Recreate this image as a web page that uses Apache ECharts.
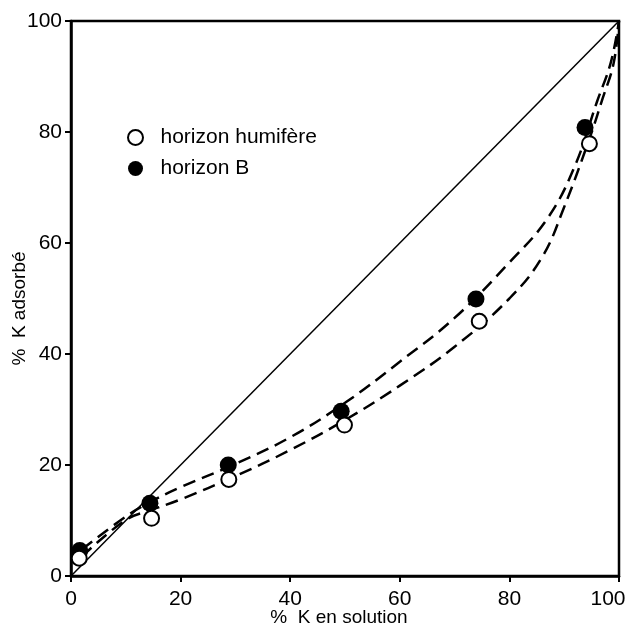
<!DOCTYPE html>
<html><head><meta charset="utf-8">
<script src="https://cdn.jsdelivr.net/npm/echarts@6/dist/echarts.min.js"></script>
<style>html,body{margin:0;padding:0;background:#fff}#c{width:633px;height:637px}</style>
</head><body><div id="c"></div>
<script>
// Measured points
const humifereX = [1.5, 14.7, 28.8, 49.9, 74.5, 94.6];
const humifereY = [3.2, 10.4, 17.4, 27.2, 45.9, 77.9];
const horizonBX = [1.6, 14.4, 28.7, 49.3, 73.9, 93.8];
const horizonBY = [4.6, 13.1, 20.0, 29.7, 49.9, 80.8];
// Hand-drawn dashed curves
const curveHumX = [2, 10, 15, 20, 30, 40, 50, 60, 70, 80, 86, 90, 94.5, 97, 99, 100];
const curveHumY = [3.5, 10.1, 12.0, 13.8, 18.0, 22.7, 28.1, 34.3, 41.3, 50.0, 57.5, 66.5, 78.5, 86.0, 92.3, 100];
const curveBX = [2, 10, 14.4, 20, 30, 40, 50, 60, 70, 80, 87, 92, 96, 98.5, 100];
const curveBY = [4.8, 10.7, 13.3, 16.0, 20.2, 25.0, 31.2, 38.6, 46.5, 56.5, 64.5, 74.0, 85.5, 92.5, 100];
const diagX = [0, 100];
const diagY = [0, 100];
const xTicks = [0, 20, 40, 60, 80, 100];

const zip = (a, b) => a.map((v, i) => [v, b[i]]);
const font = '"Liberation Sans", Arial, sans-serif';
const dash = {color: '#000', width: 2.5, type: [13, 7]};
const chart = echarts.init(document.getElementById('c'));
chart.setOption({
  animation: false,
  backgroundColor: '#fff',
  grid: {left: 71, right: 14, top: 21, bottom: 61, show: true, borderColor: '#000', borderWidth: 2.5,
    containLabel: false, outerBoundsMode: 'none'},
  legend: {
    orient: 'vertical', left: 122, top: 122, itemWidth: 40, itemHeight: 15, itemGap: 10,
    textStyle: {fontSize: 21, color: '#000', fontFamily: font},
    data: [
      {name: 'horizon humifère', icon: 'circle', itemStyle: {color: '#fff', borderColor: '#000', borderWidth: 2, opacity: 1}},
      {name: 'horizon B', icon: 'circle', itemStyle: {color: '#000', opacity: 1}}
    ]
  },
  xAxis: {
    type: 'value', min: 0, max: 100, interval: 20,
    name: '%  K en solution', nameLocation: 'middle', nameGap: 32, nameMoveOverlap: false,
    nameTextStyle: {fontSize: 19, color: '#000', fontFamily: font, padding: [0, 12, 0, 0]},
    axisLine: {lineStyle: {color: '#000', width: 2.5}},
    axisTick: {show: true, length: 6, lineStyle: {color: '#000', width: 2}},
    axisLabel: {fontSize: 21, color: '#000', margin: 13, fontFamily: font,
      formatter: v => !xTicks.includes(v) ? '' : (v === 100 ? '{r|100}' : String(v)),
      rich: {r: {fontSize: 21, color: '#000', fontFamily: font, padding: [0, 22, 0, 0]}}},
    splitLine: {show: false}
  },
  yAxis: {
    type: 'value', min: 0, max: 100, interval: 20,
    name: '%  K adsorbé', nameLocation: 'middle', nameGap: 42, nameRotate: 90, nameMoveOverlap: false,
    nameTextStyle: {fontSize: 19, color: '#000', fontFamily: font, padding: [0, 20, 0, 0]},
    axisLine: {lineStyle: {color: '#000', width: 2.5}},
    axisTick: {show: true, length: 6, lineStyle: {color: '#000', width: 2}},
    axisLabel: {fontSize: 21, color: '#000', margin: 9, fontFamily: font},
    splitLine: {show: false}
  },
  series: [
    {type: 'line', data: zip(diagX, diagY), symbol: 'none', lineStyle: {color: '#000', width: 1.5}, silent: true, z: 1},
    {type: 'line', data: zip(curveHumX, curveHumY), symbol: 'none', smooth: 0.4,
      lineStyle: dash, silent: true, z: 2},
    {type: 'line', data: zip(curveBX, curveBY), symbol: 'none', smooth: 0.4,
      lineStyle: dash, silent: true, z: 2},
    {name: 'horizon humifère', type: 'scatter', data: zip(humifereX, humifereY), symbol: 'circle', symbolSize: 15,
      itemStyle: {color: '#fff', borderColor: '#000', borderWidth: 2, opacity: 1}, z: 5},
    {name: 'horizon B', type: 'scatter', data: zip(horizonBX, horizonBY), symbol: 'circle', symbolSize: 17,
      itemStyle: {color: '#000', opacity: 1}, z: 4}
  ]
});
</script></body></html>
